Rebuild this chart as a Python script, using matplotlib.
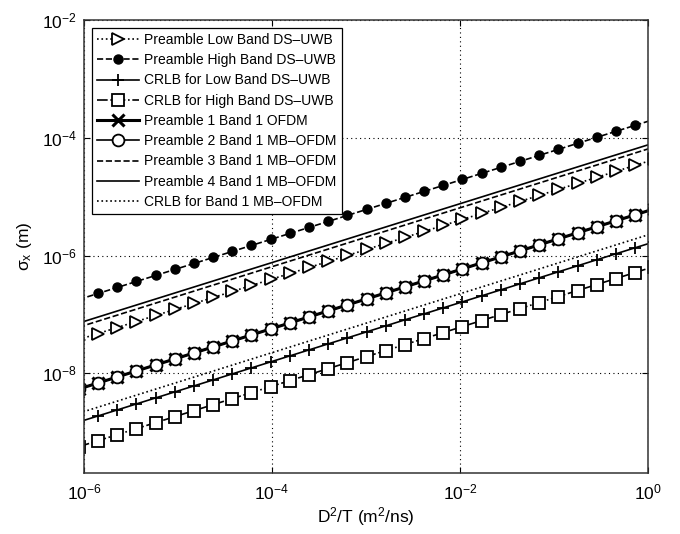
import matplotlib
matplotlib.use("Agg")
import matplotlib.pyplot as plt

plt.rcParams['font.family'] = ['Liberation Sans', 'DejaVu Sans']
plt.rcParams['mathtext.fontset'] = 'custom'
plt.rcParams['mathtext.rm'] = 'Liberation Sans'
plt.rcParams['mathtext.it'] = 'Liberation Sans:italic'
plt.rcParams['mathtext.default'] = 'regular'

# D^2/T values of the markers (first and last fall just outside the axes)
d2t = [8.83e-7, 1.413e-6, 2.26e-6, 3.61e-6, 5.78e-6, 9.25e-6, 1.479e-5, 2.37e-5,
       3.78e-5, 6.05e-5, 9.68e-5, 1.549e-4, 2.48e-4, 3.96e-4, 6.34e-4, 1.014e-3,
       1.622e-3, 2.59e-3, 4.15e-3, 6.64e-3, 1.062e-2, 1.698e-2, 2.72e-2, 4.35e-2,
       6.95e-2, 0.1112, 0.1778, 0.284, 0.455, 0.728, 1.164]

low_uwb = [3.741e-8, 4.732e-8, 5.984e-8, 7.568e-8, 9.572e-8, 1.211e-7, 1.531e-7, 1.936e-7,
           2.449e-7, 3.097e-7, 3.917e-7, 4.955e-7, 6.266e-7, 7.925e-7, 1.002e-6, 1.268e-6,
           1.603e-6, 2.028e-6, 2.564e-6, 3.243e-6, 4.102e-6, 5.188e-6, 6.561e-6, 8.299e-6,
           1.050e-5, 1.327e-5, 1.679e-5, 2.123e-5, 2.685e-5, 3.396e-5, 4.295e-5]

high_uwb = [1.791e-7, 2.265e-7, 2.864e-7, 3.622e-7, 4.581e-7, 5.794e-7, 7.328e-7, 9.268e-7,
            1.172e-6, 1.483e-6, 1.875e-6, 2.371e-6, 2.999e-6, 3.793e-6, 4.797e-6, 6.067e-6,
            7.674e-6, 9.705e-6, 1.227e-5, 1.552e-5, 1.963e-5, 2.483e-5, 3.141e-5, 3.972e-5,
            5.023e-5, 6.353e-5, 8.035e-5, 1.016e-4, 1.285e-4, 1.626e-4, 2.056e-4]

crlb_low = [1.489e-9, 1.884e-9, 2.382e-9, 3.013e-9, 3.811e-9, 4.819e-9, 6.095e-9, 7.709e-9,
            9.750e-9, 1.233e-8, 1.560e-8, 1.972e-8, 2.495e-8, 3.155e-8, 3.990e-8, 5.047e-8,
            6.383e-8, 8.072e-8, 1.021e-7, 1.291e-7, 1.633e-7, 2.065e-7, 2.612e-7, 3.304e-7,
            4.178e-7, 5.284e-7, 6.683e-7, 8.453e-7, 1.069e-6, 1.352e-6, 1.710e-6]

crlb_high = [5.662e-10, 7.161e-10, 9.057e-10, 1.146e-9, 1.449e-9, 1.832e-9, 2.317e-9, 2.931e-9,
             3.707e-9, 4.688e-9, 5.929e-9, 7.499e-9, 9.484e-9, 1.199e-8, 1.517e-8, 1.919e-8,
             2.427e-8, 3.069e-8, 3.882e-8, 4.909e-8, 6.209e-8, 7.852e-8, 9.931e-8, 1.256e-7,
             1.589e-7, 2.009e-7, 2.541e-7, 3.214e-7, 4.064e-7, 5.140e-7, 6.501e-7]

pre2_mb = [5.408e-9, 6.839e-9, 8.650e-9, 1.094e-8, 1.384e-8, 1.750e-8, 2.213e-8, 2.799e-8,
           3.540e-8, 4.477e-8, 5.662e-8, 7.161e-8, 9.057e-8, 1.146e-7, 1.449e-7, 1.832e-7,
           2.317e-7, 2.931e-7, 3.707e-7, 4.688e-7, 5.929e-7, 7.499e-7, 9.484e-7, 1.199e-6,
           1.517e-6, 1.919e-6, 2.427e-6, 3.069e-6, 3.882e-6, 4.909e-6, 6.209e-6]
pre1_ofdm = pre2_mb  # sits right under preamble 2

# straight lines, only end points
ends = [8.83e-7, 1.164]
pre3_mb = [6.07e-8, 6.97e-5]
pre4_mb = [7.13e-8, 8.18e-5]
crlb_mb = [2.10e-9, 2.42e-6]

fig = plt.figure(figsize=(6.8, 5.34), dpi=100)
ax = fig.add_axes([0.1235, 0.1142, 0.8295, 0.8483])

lw = 1.2
ax.loglog(d2t, low_uwb, ':', color='k', lw=lw, marker='>', ms=8.5, mfc='white', mec='k', mew=1.3,
          label='Preamble Low Band DS\u2013UWB')
ax.loglog(d2t, high_uwb, '--', color='k', lw=lw, marker='o', ms=6.5, mfc='k', mec='k',
          label='Preamble High Band DS\u2013UWB')
ax.loglog(d2t, crlb_low, '-', color='k', lw=lw, marker='+', ms=9, mew=1.3,
          label='CRLB for Low Band DS\u2013UWB')
ax.loglog(d2t, crlb_high, '-.', color='k', lw=lw, marker='s', ms=8.5, mfc='white', mec='k', mew=1.3,
          label='CRLB for High Band DS\u2013UWB')
ax.loglog(d2t, pre1_ofdm, '-', color='k', lw=2.2, marker='x', ms=8, mew=2.2,
          label='Preamble 1 Band 1 OFDM')
ax.loglog(d2t, pre2_mb, '-', color='k', lw=lw, marker='o', ms=8.5, mfc='white', mec='k', mew=1.3,
          label='Preamble 2 Band 1 MB\u2013OFDM')
ax.loglog(ends, pre3_mb, '--', color='k', lw=lw, label='Preamble 3 Band 1 MB\u2013OFDM')
ax.loglog(ends, pre4_mb, '-', color='k', lw=lw, label='Preamble 4 Band 1 MB\u2013OFDM')
ax.loglog(ends, crlb_mb, ':', color='k', lw=lw, label='CRLB for Band 1 MB\u2013OFDM')

ax.set_xlim(1e-6, 1)
ax.set_ylim(2.02e-10, 1e-2)
ax.set_xticks([1e-6, 1e-4, 1e-2, 1])
ax.set_yticks([1e-8, 1e-6, 1e-4, 1e-2])
ax.minorticks_off()
ax.tick_params(direction='in', top=True, right=True, length=4, width=0.8, labelsize=12.5)
ax.tick_params(axis='x', pad=7)
ax.tick_params(axis='y', pad=5)
ax.grid(True, which='major', linestyle=(0, (1, 3)), color='k', linewidth=0.8)
for s in ax.spines.values():
    s.set_color('#333333')
    s.set_linewidth(1.1)

ax.set_xlabel('D$^2$/T (m$^2$/ns)', fontsize=12.5, labelpad=2)
ax.set_ylabel('$\\sigma_x$ (m)', fontsize=12.5, labelpad=6)

leg = ax.legend(loc='upper left', fontsize=10, handlelength=3.0, labelspacing=0.45,
                borderaxespad=0.55, fancybox=False, framealpha=1, borderpad=0.38,
                handletextpad=0.4)
leg.get_frame().set_edgecolor('k')
leg.get_frame().set_linewidth(0.9)

fig.savefig('out.png', dpi=100)
